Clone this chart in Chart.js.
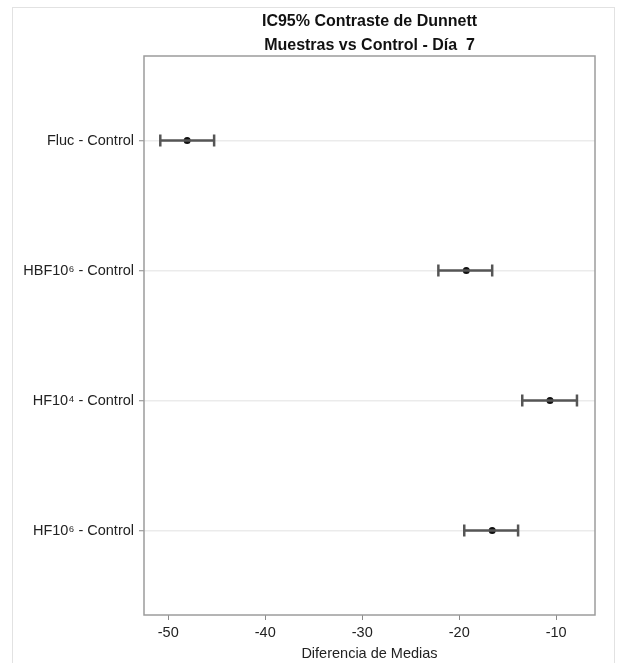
<!DOCTYPE html>
<html>
<head>
<meta charset="utf-8">
<script src="https://cdn.jsdelivr.net/npm/chart.js@4/dist/chart.umd.min.js"></script>
<style>
  html, body { margin: 0; padding: 0; background: #ffffff; overflow: hidden; }
  #wrap { position: relative; width: 619px; height: 663px; }
  #frame { position: absolute; left: 12px; top: 7px; width: 603px; height: 700px; border: 1px solid #e2e2e2; box-sizing: border-box; }
  canvas { position: absolute; left: 0; top: 0; }
</style>
</head>
<body>
<div id="wrap">
  <div id="frame"></div>
  <canvas id="c" width="619" height="663"></canvas>
</div>
<script>
const categories = ['Fluc - Control', 'HBF10\u2076 - Control', 'HF10\u2074 - Control', 'HF10\u2076 - Control'];
const estimates = [-48.05, -19.27, -10.64, -16.60];
const lowers = [-50.82, -22.15, -13.50, -19.48];
const uppers = [-45.27, -16.60, -7.86, -13.93];
const xTicks = [-50, -40, -30, -20, -10];
const titleLines = ['IC95% Contraste de Dunnett', 'Muestras vs Control - D\u00eda  7'];
const xTitle = 'Diferencia de Medias';

const FONT = "'Liberation Sans', Arial, Helvetica, sans-serif";

const intervalSets = categories.map((c, i) => ({
  label: c,
  data: [{x: lowers[i], y: i}, {x: uppers[i], y: i}],
  showLine: true,
  borderColor: '#555555',
  borderWidth: 2.5,
  pointStyle: 'line',
  pointRotation: 90,
  pointRadius: 6,
  pointBorderWidth: 2.5,
  pointBorderColor: '#555555',
  pointHoverRadius: 6
}));

const estimateSet = {
  label: 'Estimate',
  data: estimates.map((v, i) => ({x: v, y: i})),
  showLine: false,
  pointStyle: 'circle',
  pointRadius: 3.5,
  pointBackgroundColor: '#111111',
  pointBorderColor: '#111111',
  pointBorderWidth: 0
};

const boxPlugin = {
  id: 'box',
  beforeDatasetsDraw(chart) {
    const a = chart.chartArea, ctx = chart.ctx;
    ctx.save();
    ctx.strokeStyle = '#9c9c9c';
    ctx.lineWidth = 1.5;
    ctx.strokeRect(a.left, a.top, a.right - a.left, a.bottom - a.top);
    ctx.restore();
  }
};

// Title centred over the plotting area (as in the reference)
const plotTitlePlugin = {
  id: 'plotTitle',
  afterDraw(chart) {
    const a = chart.chartArea, ctx = chart.ctx;
    const cx = (a.left + a.right) / 2;
    ctx.save();
    ctx.fillStyle = '#111111';
    ctx.font = "bold 16px " + FONT;
    ctx.textAlign = 'center';
    ctx.textBaseline = 'middle';
    titleLines.forEach((t, i) => ctx.fillText(t, cx, 22 + i * 24));
    ctx.restore();
  }
};

new Chart(document.getElementById('c'), {
  type: 'scatter',
  data: { datasets: [...intervalSets, estimateSet] },
  plugins: [boxPlugin, plotTitlePlugin],
  options: {
    responsive: false,
    animation: false,
    layout: { padding: { left: 0, right: 24, top: 56, bottom: 0 } },
    plugins: {
      legend: { display: false },
      tooltip: { enabled: false },
      title: { display: false }
    },
    scales: {
      x: {
        type: 'linear',
        min: -52.5,
        max: -6,
        afterBuildTicks(scale) { scale.ticks = xTicks.map(v => ({ value: v })); },
        afterFit(scale) { scale.height = 48; },
        grid: { display: true, drawOnChartArea: false, drawTicks: true, tickLength: 5, tickColor: '#8a8a8a', tickWidth: 1 },
        border: { display: false },
        ticks: { color: '#222222', font: { family: FONT, size: 14.5 }, padding: 4, callback: v => String(v) },
        title: { display: true, text: xTitle, color: '#222222', font: { family: FONT, size: 14.5 }, padding: { top: 0, bottom: 0 } }
      },
      y: {
        type: 'linear',
        min: -0.65,
        max: 3.65,
        reverse: true,
        afterBuildTicks(scale) { scale.ticks = categories.map((c, i) => ({ value: i })); },
        afterFit(scale) { scale.width = 144; },
        grid: { display: true, color: '#ebebeb', lineWidth: 1.5, drawTicks: true, tickLength: 5, tickColor: '#8a8a8a', tickWidth: 1 },
        border: { display: false },
        ticks: { color: '#222222', font: { family: FONT, size: 14.5 }, padding: 5, autoSkip: false, callback: v => categories[v] !== undefined ? categories[v] : '' }
      }
    }
  }
});
</script>
</body>
</html>
